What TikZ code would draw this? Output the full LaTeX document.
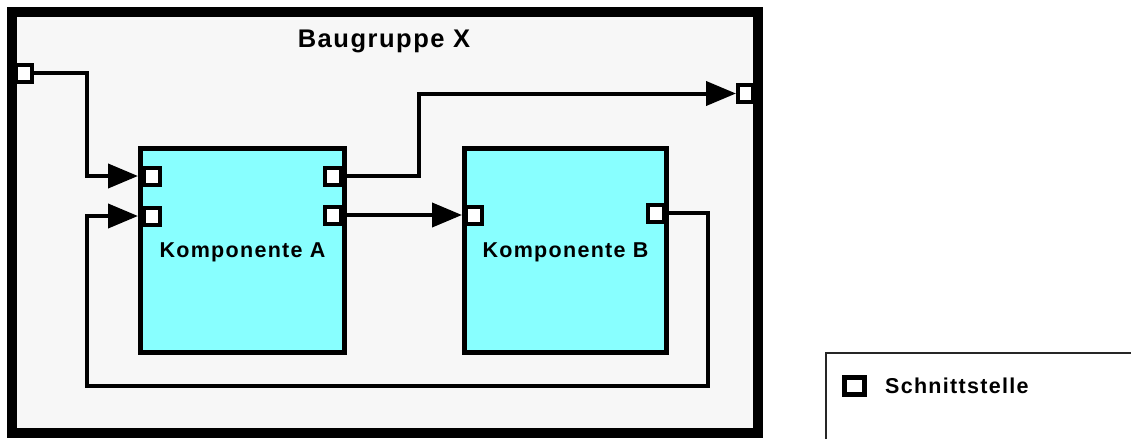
\documentclass[tikz,border=0pt]{standalone}
\usepackage{fontspec}
\setmainfont{Liberation Sans}
\newfontfamily\lblfont[LetterSpace=6]{Liberation Sans}
\usetikzlibrary{arrows.meta,calc}
\definecolor{framefill}{HTML}{F7F7F7}
\definecolor{compfill}{HTML}{88FFFF}
\tikzset{
  x=1pt, y=-1pt,
  frame/.style={draw=black, line width=10pt, fill=framefill},
  comp/.style={draw=black, line width=5pt, fill=compfill, minimum width=204pt, minimum height=204pt, inner sep=0pt, text depth=0pt, font=\lblfont\bfseries\fontsize{21.5}{25}\selectfont},
  port/.style={draw=black, line width=4pt, fill=white, minimum width=16pt, minimum height=17pt, inner sep=0pt},
  conn/.style={draw=black, line width=4pt},
  arr/.style={-{Triangle[length=30pt,width=24pt]}},
  lbl/.style={font=\lblfont\bfseries\fontsize{21.5}{25}\selectfont, inner sep=0pt},
  title/.style={font=\lblfont\bfseries\fontsize{25.5}{30}\selectfont, inner sep=0pt},
}
\begin{document}
\begin{tikzpicture}
\useasboundingbox (0,0) rectangle (1131,439);
% frame
\draw[frame] (12,12) rectangle (758,433);
\node[title, anchor=base] (title) at (384,47.5) {Baugruppe X};
% components
\node[comp] (A) at (242.5,250.5) {Komponente A};
\node[comp, minimum width=202pt] (B) at (565.5,250.5) {Komponente B};
% ports
\node[port] (pIn) at (24,73) {};
\node[port, minimum width=15pt] (pOut) at (745.5,93.5) {};
\node[port] (pA1) at (152,176) {};
\node[port] (pA2) at (152,216) {};
\node[port] (pA3) at (332.5,176) {};
\node[port] (pA4) at (332.5,215) {};
\node[port] (pB1) at (474,215) {};
\node[port] (pB2) at (656,213) {};
\coordinate (loop) at (87,386);
% connectors
\draw[conn, arr, shorten >=4pt] (pIn.east) -- ++(53,0) |- (pA1.west);
\draw[conn, arr] (pA3.east) -- ++(76,0) |- (pOut.west);
\draw[conn, arr, shorten >=2pt] (pA4.east) -- (pB1.west);
\draw[conn, arr, shorten >=4pt] (pB2.east) -- ++(42,0) |- (loop) |- (pA2.west);
% legend
\draw[line width=1.5pt, draw=black!85] (826,439) -- (826,353) -- (1131,353);
\node[port, line width=5pt, minimum width=20pt, minimum height=17pt] (legport) at (854.5,386) {};
\node[lbl, anchor=west] (legtext) at (885,386) {Schnittstelle};
\end{tikzpicture}
\end{document}
